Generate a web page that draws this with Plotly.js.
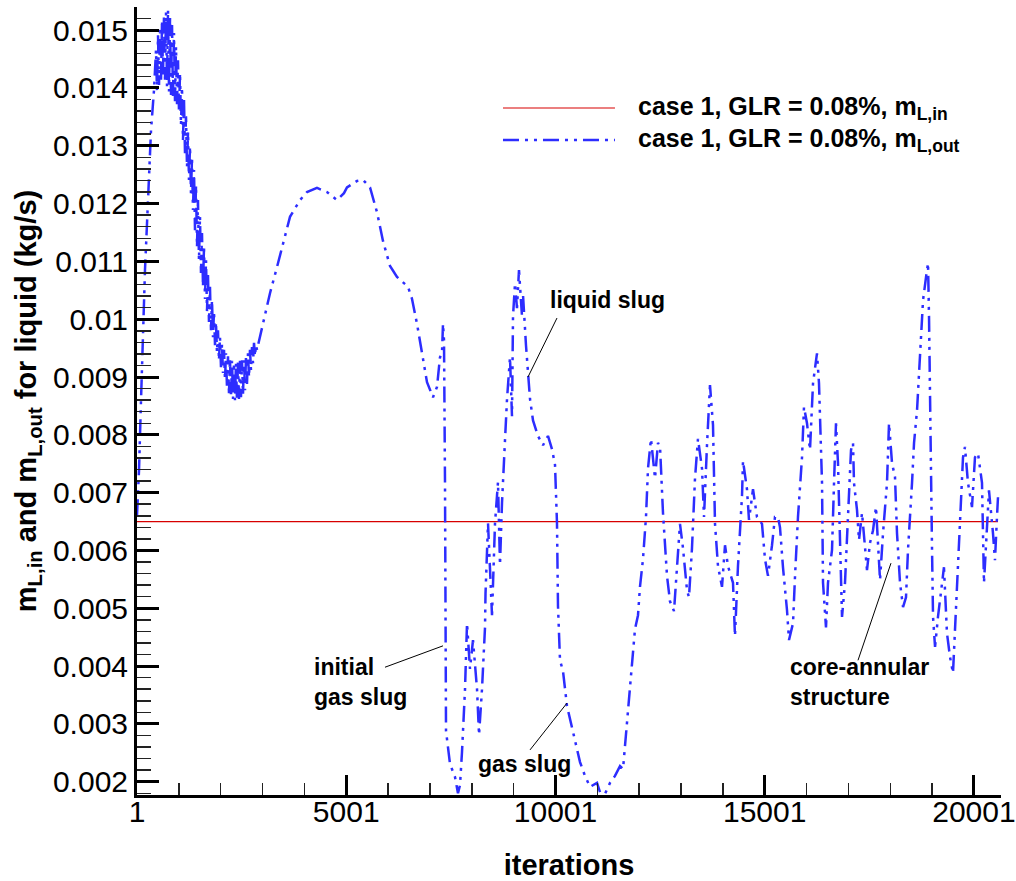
<!DOCTYPE html>
<html><head><meta charset="utf-8">
<script src="https://cdn.plot.ly/plotly-3.0.1.min.js"></script>
<style>html,body{margin:0;padding:0;background:#fff}#chart{width:1016px;height:881px}</style>
</head><body><div id="chart"></div>
<script>
// ---- series: m_L,out (outlet liquid mass flow) ----
const iterStart = [1,49,97,144,192,264,336,407];
const massStart = [0.00661,0.00739,0.00860,0.00981,0.01085,0.01206,0.01327,0.01396];

const iterBand = [455,479,503,527,551,575,599,622,646,670,
  694,718,742,766,790,814,838,861,885,909,
  933,957,981,1005,1029,1052,1076,1100,1124,1148,
  1172,1196,1220,1243,1267,1291,1315,1339,1363,1387,
  1411,1435,1458,1482,1506,1530,1554,1578,1602,1626,
  1650,1674,1697,1721,1745,1769,1793,1817,1841,1865,
  1888,1912,1936,1960,1984,2008,2032,2056,2080,2104,
  2127,2151,2175,2199,2223,2247,2271,2295,2319,2342,
  2366,2390,2414,2438,2462,2486,2510,2534,2558,2582,
  2605,2629,2653,2677,2701,2725,2749,2773,2797,2820,
  2844];
const massBand = [0.01465,0.01396,0.01491,0.01405,0.01505,0.01414,0.01517,0.01419,0.01526,0.01414,
  0.01531,0.01403,0.01535,0.01394,0.01521,0.01388,0.01509,0.01381,0.01495,0.01377,
  0.01471,0.01372,0.01448,0.01358,0.01426,0.01336,0.01401,0.01310,0.01379,0.01287,
  0.01351,0.01263,0.01324,0.01241,0.01299,0.01218,0.01279,0.01189,0.01258,0.01154,
  0.01232,0.01125,0.01206,0.01102,0.01178,0.01080,0.01149,0.01056,0.01125,0.01035,
  0.01102,0.01014,0.01078,0.00995,0.01056,0.00981,0.01033,0.00969,0.01014,0.00955,
  0.00995,0.00943,0.00981,0.00929,0.00969,0.00917,0.00957,0.00907,0.00947,0.00895,
  0.00941,0.00883,0.00936,0.00872,0.00931,0.00865,0.00928,0.00862,0.00924,0.00860,
  0.00924,0.00860,0.00926,0.00862,0.00928,0.00865,0.00929,0.00870,0.00929,0.00877,
  0.00934,0.00888,0.00941,0.00900,0.00947,0.00912,0.00952,0.00924,0.00959,0.00936,
  0.00955];

const iterSlug = [2868,3036,3179,3346,3514,3657,3896,4063,4302,4541,
  4780,4947,5019,5258,5401,5569,5736,5880,6047,6214,
  6477,6573,6692,6812,6931,7074,7170,7241,7289,7313,
  7337,7361,7368,7385,7480,7600,7671,7719,7767,7839,
  7887,7958,8030,8126,8174,8245,8317,8329,8389,8436,
  8484,8556,8627,8675,8723,8795,8843,8914,8962,8986,
  9034,9081,9129,9201,9225,9296,9344,9392,9464,9583,
  9703,9822,9918,9990,10037,10061,10109];
const massSlug = [0.00947,0.00998,0.01045,0.01090,0.01137,0.01177,0.01206,0.01220,0.01227,0.01220,
  0.01206,0.01218,0.01228,0.01239,0.01241,0.01228,0.01185,0.01135,0.01092,0.01073,
  0.01056,0.01035,0.00992,0.00941,0.00891,0.00865,0.00883,0.00934,0.00941,0.00992,
  0.00964,0.00718,0.00431,0.00288,0.00231,0.00208,0.00180,0.00194,0.00251,0.00360,
  0.00474,0.00395,0.00445,0.00360,0.00281,0.00360,0.00467,0.00525,0.00647,0.00575,
  0.00488,0.00647,0.00718,0.00575,0.00682,0.00791,0.00862,0.00934,0.00832,0.01005,
  0.01062,0.01019,0.01085,0.01005,0.01042,0.00955,0.00905,0.00862,0.00825,0.00798,
  0.00782,0.00798,0.00775,0.00748,0.00647,0.00504,0.00410];

const iterMid = [10181,10276,10396,10467,10587,10706,10826,10993,11065,11184,
  11304,11423,11543,11615,11710,11782,11853,11901,11973,12020,
  12092,12164,12212,12283,12379,12451,12498,12570,12666,12737,
  12833,12905,12976,13048,13144,13191,13263,13335,13406,13502,
  13550,13621,13693,13765,13813,13884,13980,14052,14123,14243,
  14290,14362,14458,14482,14577,14625,14721,14816,14936,15007,
  15079,15175,15246,15318];
const massMid = [0.00391,0.00331,0.00295,0.00270,0.00234,0.00210,0.00191,0.00198,0.00182,0.00179,
  0.00198,0.00210,0.00227,0.00222,0.00300,0.00360,0.00421,0.00464,0.00488,0.00537,
  0.00585,0.00658,0.00742,0.00793,0.00725,0.00786,0.00781,0.00665,0.00556,0.00512,
  0.00495,0.00573,0.00646,0.00604,0.00531,0.00519,0.00604,0.00725,0.00793,0.00742,
  0.00658,0.00781,0.00886,0.00817,0.00646,0.00573,0.00537,0.00609,0.00573,0.00544,
  0.00452,0.00573,0.00694,0.00755,0.00706,0.00653,0.00706,0.00658,0.00646,0.00585,
  0.00556,0.00609,0.00658,0.00658];

const iterEnd = [15366,15437,15533,15581,15677,15724,15796,15892,15939,16011,
  16083,16155,16250,16298,16370,16394,16465,16513,16609,16657,
  16704,16752,16800,16848,16919,16991,17063,17111,17134,17206,
  17254,17326,17397,17445,17517,17589,17660,17708,17756,17828,
  17923,17971,18043,18114,18162,18234,18306,18377,18425,18521,
  18569,18641,18712,18784,18856,18903,18927,18951,18999,19023,
  19071,19141,19237,19284,19356,19428,19500,19595,19667,19739,
  19786,19858,19954,20025,20097,20193,20240,20312,20360,20455,
  20503,20551,20575];
const massEnd = [0.00640,0.00571,0.00497,0.00445,0.00474,0.00554,0.00658,0.00761,0.00848,0.00820,
  0.00774,0.00889,0.00941,0.00889,0.00717,0.00544,0.00467,0.00544,0.00601,0.00717,
  0.00820,0.00751,0.00630,0.00485,0.00544,0.00658,0.00774,0.00786,0.00717,0.00670,
  0.00618,0.00665,0.00601,0.00566,0.00613,0.00635,0.00675,0.00601,0.00549,0.00630,
  0.00717,0.00820,0.00751,0.00727,0.00630,0.00544,0.00502,0.00519,0.00601,0.00717,
  0.00786,0.00843,0.00947,0.01033,0.01073,0.01097,0.01004,0.00831,0.00601,0.00485,
  0.00433,0.00485,0.00544,0.00571,0.00457,0.00416,0.00388,0.00544,0.00670,0.00761,
  0.00779,0.00717,0.00675,0.00761,0.00768,0.00717,0.00544,0.00630,0.00704,0.00630,
  0.00583,0.00658,0.00692];

// ---- series: m_L,in (constant inlet liquid mass flow) ----
const iterIn = [1, 20575];
const massIn = [0.0065, 0.0065];

// ---- ticks ----
const xTickVals = [1, 5001, 10001, 15001, 20001];
const xTickText = ['1', '5001', '10001', '15001', '20001'];
const yTickVals = [0.002,0.003,0.004,0.005,0.006,0.007,0.008,0.009,0.010,0.011,0.012,0.013,0.014,0.015];
const yTickText = ['0.002','0.003','0.004','0.005','0.006','0.007','0.008','0.009','0.01','0.011','0.012','0.013','0.014','0.015'];

// ---- labels ----
const seriesNames = ['case 1, GLR = 0.08%, m<sub>L,in</sub>', 'case 1, GLR = 0.08%, m<sub>L,out</sub>'];
const noteTexts = ['liquid slug', 'initial<br>gas slug', 'gas slug', 'core-annular<br>structure'];
const noteIter = [9822, 4183, 8101, 15557];
const noteMass = [0.01033, 0.00372, 0.00230, 0.00372];
const leaderIter = [[10037, 9344], [5927, 7313], [9392, 10276], [17230, 18018]];
const leaderMass = [[0.01002, 0.00900], [0.00398, 0.00435], [0.00255, 0.00336], [0.00410, 0.00578]];

const FONT = 'Liberation Sans, Arial, Helvetica, sans-serif';
const BLUE = 'rgb(45,45,255)';
const RED = 'rgb(215,0,0)';
const DASH = '16px,6px,3px,6px,3px,6px';

const iterOut = [].concat(iterStart, iterBand, iterSlug, iterMid, iterEnd);
const massOut = [].concat(massStart, massBand, massSlug, massMid, massEnd);

const traces = [
  {x: iterIn, y: massIn, type: 'scatter', mode: 'lines', name: seriesNames[0],
   line: {color: RED, width: 1.2}},
  {x: iterOut, y: massOut, type: 'scatter', mode: 'lines', name: seriesNames[1],
   line: {color: BLUE, width: 2.5, dash: DASH}}
];

const shapes = leaderIter.map((xs, i) => ({
  type: 'line', xref: 'x', yref: 'y', x0: xs[0], x1: xs[1],
  y0: leaderMass[i][0], y1: leaderMass[i][1], line: {color: 'black', width: 1}, layer: 'above'
}));
// manual legend samples
shapes.push({type: 'line', xref: 'paper', yref: 'paper', x0: 0.4236, x1: 0.5532, y0: 0.8718, y1: 0.8718,
  line: {color: RED, width: 1.2}});
shapes.push({type: 'line', xref: 'paper', yref: 'paper', x0: 0.4236, x1: 0.5532, y0: 0.8312, y1: 0.8312,
  line: {color: BLUE, width: 2.5, dash: DASH}});

const annotations = noteTexts.map((t, i) => ({
  text: '<b>' + t + '</b>', x: noteIter[i], y: noteMass[i], xref: 'x', yref: 'y',
  xanchor: 'left', yanchor: 'middle', align: 'left', showarrow: false,
  font: {family: FONT, size: 23, color: 'black'}
}));
annotations.push({text: '<b>' + seriesNames[0] + '</b>', xref: 'paper', yref: 'paper', x: 0.5775, y: 0.8718,
  xanchor: 'left', yanchor: 'middle', showarrow: false, font: {family: FONT, size: 25, color: 'black'}});
annotations.push({text: '<b>' + seriesNames[1] + '</b>', xref: 'paper', yref: 'paper', x: 0.5775, y: 0.8312,
  xanchor: 'left', yanchor: 'middle', showarrow: false, font: {family: FONT, size: 25, color: 'black'}});

const layout = {
  width: 1016, height: 881,
  margin: {l: 137, r: 15, t: 7, b: 86, pad: 0},
  paper_bgcolor: 'white', plot_bgcolor: 'white',
  showlegend: false,
  font: {family: FONT, color: 'black'},
  xaxis: {
    range: [1, 20647], showline: true, linewidth: 3, linecolor: 'black',
    zeroline: false, showgrid: false,
    ticks: 'inside', ticklen: 20, tickwidth: 3, tickcolor: 'black',
    tickmode: 'array', tickvals: xTickVals, ticktext: xTickText,
    tickfont: {family: FONT, size: 30, color: 'black'},
    ticklabelstandoff: -12,
    minor: {tickmode: 'linear', tick0: 1, dtick: 1000, ticks: 'inside', ticklen: 12, tickwidth: 1.5, tickcolor: '#222', showgrid: false},
    title: {text: '<b>iterations</b>', font: {family: FONT, size: 29, color: 'black'}, standoff: 34}
  },
  yaxis: {
    range: [0.00177, 0.0154], showline: true, linewidth: 3, linecolor: 'black',
    zeroline: false, showgrid: false,
    ticks: 'inside', ticklen: 22, tickwidth: 3, tickcolor: 'black',
    tickmode: 'array', tickvals: yTickVals, ticktext: yTickText,
    tickfont: {family: FONT, size: 30, color: 'black'},
    minor: {tickmode: 'linear', tick0: 0, dtick: 0.0002, ticks: 'inside', ticklen: 14, tickwidth: 1.5, tickcolor: '#222', showgrid: false},
    title: {text: '<b>m<sub>L,in</sub> and m<sub>L,out</sub> for liquid (kg/s)</b>', font: {family: FONT, size: 29, color: 'black'}, standoff: 8}
  },
  shapes: shapes,
  annotations: annotations
};

Plotly.newPlot('chart', traces, layout, {displayModeBar: false, staticPlot: true});
</script>
</body></html>
